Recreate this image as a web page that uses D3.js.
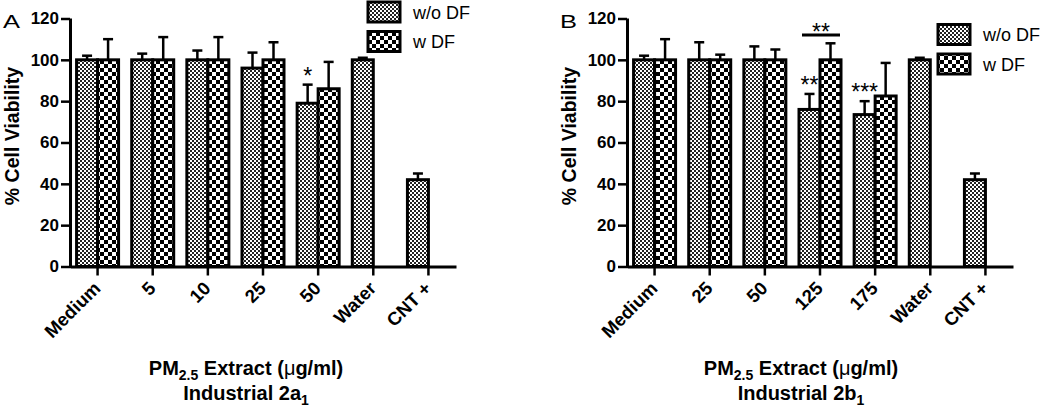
<!DOCTYPE html>
<html>
<head>
<meta charset="utf-8">
<script src="https://cdn.jsdelivr.net/npm/d3@7"></script>
<style>
  body { margin: 0; background: #fff; }
  svg text { font-family: "Liberation Sans", Arial, sans-serif; }
</style>
</head>
<body>
<svg id="chart" width="1050" height="413"></svg>
<script>
// values
const catsA = ["Medium", "5", "10", "25", "50", "Water", "CNT +"];
const woA = [100, 100, 100, 96, 79, 100, 42];
const woErrA = [2, 3, 4.5, 7.5, 9, 1, 3];
const wA = [100, 100, 100, 100, 86, null, null];
const wErrA = [10, 11, 11, 8.5, 13, null, null];

const catsB = ["Medium", "25", "50", "125", "175", "Water", "CNT +"];
const woB = [100, 100, 100, 76, 73.5, 100, 42];
const woErrB = [2, 8.5, 6.5, 7.5, 6.5, 1, 3];
const wB = [100, 100, 100, 100, 82.5, null, null];
const wErrB = [10, 2.5, 5, 8, 16, null, null];

const yTicks = [0, 20, 40, 60, 80, 100, 120];
const legendLabels = ["w/o DF", "w DF"];

const svg = d3.select("#chart");

// fill patterns
const defs = svg.append("defs");
const fine = defs.append("pattern").attr("id", "fine")
  .attr("patternUnits", "userSpaceOnUse").attr("width", 4).attr("height", 4);
fine.append("rect").attr("width", 4).attr("height", 4).attr("fill", "#fff");
fine.append("rect").attr("width", 2).attr("height", 2).attr("fill", "#222");
fine.append("rect").attr("x", 2).attr("y", 2).attr("width", 2).attr("height", 2).attr("fill", "#222");

const coarse = defs.append("pattern").attr("id", "coarse")
  .attr("patternUnits", "userSpaceOnUse").attr("width", 8).attr("height", 8);
coarse.append("rect").attr("width", 8).attr("height", 8).attr("fill", "#fff");
coarse.append("rect").attr("width", 4).attr("height", 4).attr("fill", "#000");
coarse.append("rect").attr("x", 4).attr("y", 4).attr("width", 4).attr("height", 4).attr("fill", "#000");

function drawPanel(p) {
  const g = svg.append("g");
  const x = d3.scaleBand().domain(p.cats).range([p.left, p.right]).padding(0);
  const y = d3.scaleLinear().domain([0, 120]).range([266.5, 18.5]);
  const bw = 21;

  // error bars
  const errs = [];
  p.cats.forEach((c, i) => {
    const cx = x(c) + x.bandwidth() / 2;
    errs.push({ x: cx - bw / 2, v: p.wo[i], e: p.woErr[i] });
    if (p.w[i] != null) errs.push({ x: cx + bw / 2, v: p.w[i], e: p.wErr[i] });
  });
  const eb = g.selectAll("g.err").data(errs).join("g").attr("class", "err")
    .attr("stroke", "#000").attr("stroke-width", 2.5);
  eb.append("line").attr("x1", d => d.x).attr("x2", d => d.x)
    .attr("y1", d => y(d.v)).attr("y2", d => y(d.v + d.e));
  eb.append("line").attr("x1", d => d.x - 5).attr("x2", d => d.x + 5)
    .attr("y1", d => y(d.v + d.e)).attr("y2", d => y(d.v + d.e));

  // bars
  p.cats.forEach((c, i) => {
    const cx = x(c) + x.bandwidth() / 2;
    g.append("rect").attr("x", cx - bw).attr("y", y(p.wo[i]))
      .attr("width", bw).attr("height", y(0) - y(p.wo[i]))
      .attr("fill", "url(#fine)").attr("stroke", "#000").attr("stroke-width", 3);
    if (p.w[i] != null) {
      g.append("rect").attr("x", cx).attr("y", y(p.w[i]))
        .attr("width", bw).attr("height", y(0) - y(p.w[i]))
        .attr("fill", "url(#coarse)").attr("stroke", "#000").attr("stroke-width", 3);
    }
  });

  // axes
  const ya = g.append("g").attr("transform", `translate(${p.left},0)`)
    .call(d3.axisLeft(y).tickValues(yTicks).tickSize(9).tickSizeOuter(0).tickPadding(2));
  ya.select(".domain").attr("stroke-width", 3).attr("d", `M0.5,${y(0) + 1.5}V${y(120)}`);
  ya.selectAll(".tick line").attr("stroke-width", 2.5);
  ya.selectAll(".tick text").attr("font-size", 17).attr("font-weight", "bold")
    .attr("font-family", "Liberation Sans, Arial, sans-serif").attr("fill", "#000");

  const xa = g.append("g").attr("transform", `translate(0,${y(0)})`)
    .call(d3.axisBottom(x).tickSize(9).tickSizeOuter(0));
  xa.select(".domain").attr("stroke-width", 3);
  xa.selectAll(".tick line").attr("stroke-width", 2.5);
  xa.selectAll(".tick text").attr("font-size", 18.5).attr("font-weight", "bold")
    .attr("font-family", "Liberation Sans, Arial, sans-serif").attr("fill", "#000")
    .attr("text-anchor", "end").attr("dy", 0).attr("y", 0)
    .attr("transform", "translate(4,23) rotate(-45)");

  // significance stars
  p.stars.forEach(s => {
    const i = p.cats.indexOf(s.cat);
    const cx = x(s.cat) + x.bandwidth() / 2 - bw / 2;
    g.append("text").attr("x", cx).attr("y", y(p.wo[i] + p.woErr[i]) - 1)
      .attr("text-anchor", "middle").attr("font-size", 23).text(s.label);
  });
  if (p.bracket) {
    const cx = x(p.bracket.cat) + x.bandwidth() / 2;
    g.append("line").attr("x1", cx - 18).attr("x2", cx + 20)
      .attr("y1", y(p.bracket.v)).attr("y2", y(p.bracket.v))
      .attr("stroke", "#000").attr("stroke-width", 3);
    g.append("text").attr("x", cx + 1).attr("y", y(p.bracket.v) + 4.5)
      .attr("text-anchor", "middle").attr("font-size", 23).text(p.bracket.label);
  }

  // y title
  g.append("text").attr("transform", `translate(${p.left - 51},136) rotate(-90)`)
    .attr("text-anchor", "middle").attr("font-size", 19.5).attr("font-weight", "bold")
    .text("% Cell Viability");

  // panel letter
  g.append("text").attr("x", p.left - 67).attr("y", 28).attr("font-size", 18.5)
    .attr("textLength", 17).attr("lengthAdjust", "spacingAndGlyphs").text(p.letter);

  // x title
  const t1 = g.append("text").attr("x", p.titleX).attr("y", 375).attr("text-anchor", "middle")
    .attr("font-size", 20).attr("font-weight", "bold");
  t1.append("tspan").text("PM");
  t1.append("tspan").attr("font-size", 14).attr("dy", 5).text("2.5");
  t1.append("tspan").attr("dy", -5).text(" Extract (");
  t1.append("tspan").attr("font-weight", "normal").text("\u03bc");
  t1.append("tspan").text("g/ml)");
  const t2 = g.append("text").attr("x", p.titleX).attr("y", 400).attr("text-anchor", "middle")
    .attr("font-size", 20).attr("font-weight", "bold");
  t2.append("tspan").text(p.sub[0]);
  t2.append("tspan").attr("font-size", 14).attr("dy", 5).text(p.sub[1]);

  // legend
  legendLabels.forEach((lab, k) => {
    const ly = p.legY + k * 29.5;
    g.append("rect").attr("x", p.legX).attr("y", ly).attr("width", 32).attr("height", 20)
      .attr("fill", k === 0 ? "url(#fine)" : "url(#coarse)")
      .attr("stroke", "#000").attr("stroke-width", 3);
    g.append("text").attr("x", p.legX + 45).attr("y", ly + 16.5)
      .attr("font-size", 18).text(lab);
  });
}

drawPanel({
  cats: catsA, wo: woA, woErr: woErrA, w: wA, wErr: wErrA,
  left: 70, right: 456, letter: "A", titleX: 246, sub: ["Industrial 2a", "1"],
  legX: 368, legY: 2, stars: [{ cat: "50", label: "*" }]
});

drawPanel({
  cats: catsB, wo: woB, woErr: woErrB, w: wB, wErr: wErrB,
  left: 627, right: 1013, letter: "B", titleX: 801, sub: ["Industrial 2b", "1"],
  legX: 938, legY: 24.5, stars: [{ cat: "125", label: "**" }, { cat: "175", label: "***" }],
  bracket: { cat: "125", v: 112, label: "**" }
});
</script>
</body>
</html>
